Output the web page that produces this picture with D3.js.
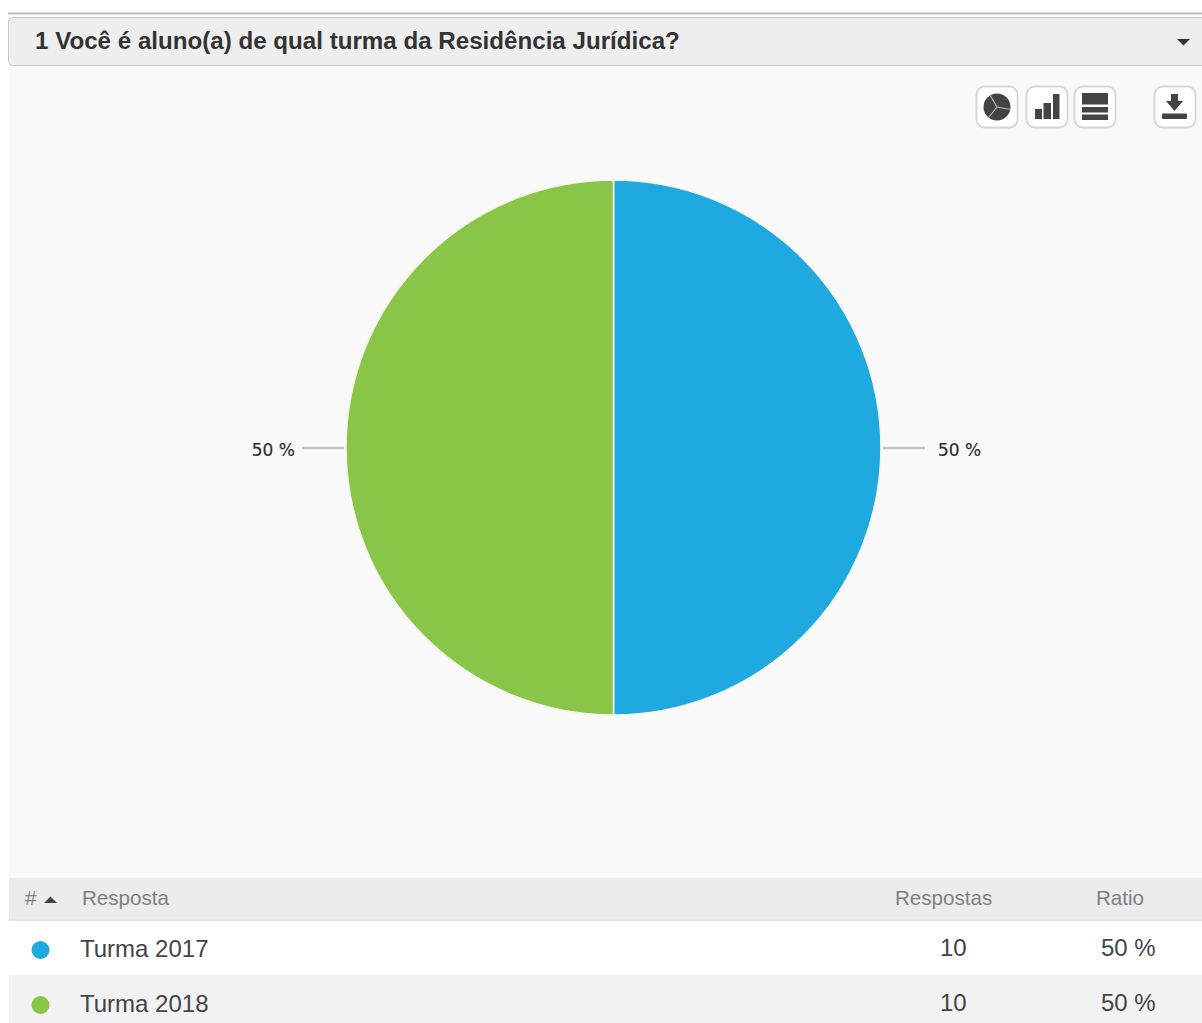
<!DOCTYPE html>
<html lang="pt">
<head>
<meta charset="utf-8">
<title>Turma da Residência Jurídica</title>
<script src="https://d3js.org/d3.v7.min.js"></script>
<style>
html,body{margin:0;padding:0;background:#fff;overflow:hidden}
svg{display:block}
text{font-family:"Liberation Sans",Arial,sans-serif}
</style>
</head>
<body>
<svg id="chart" width="1202" height="1023"></svg>
<script>
const questionTitle = "1 Você é aluno(a) de qual turma da Residência Jurídica?";
const categories = ["Turma 2017", "Turma 2018"];
const responses = [10, 10];
const ratioLabels = ["50 %", "50 %"];
const sliceColors = ["#1fa9e1", "#89c546"];
const columnHeadings = ["Resposta", "Respostas", "Ratio"];

const svg = d3.select("#chart");

// Question header bar
svg.append("rect").attr("x", 8).attr("y", 12.5).attr("width", 1194).attr("height", 2).attr("fill", "#bebebe");
svg.append("rect").attr("x", 9).attr("y", 66).attr("width", 1193).attr("height", 812).attr("fill", "#f9f9f9");
svg.append("rect").attr("x", 8.5).attr("y", 17.5).attr("width", 1200).attr("height", 48).attr("rx", 4)
  .attr("fill", "#eeeeee").attr("stroke", "#cacaca");
svg.append("text").attr("x", 35).attr("y", 49).attr("font-size", 24.15).attr("font-weight", 700)
  .attr("fill", "#333").text(questionTitle);
svg.append("path").attr("d", "M1177 39h13l-6.500 6.500z").attr("fill", "#333");

// Toolbar buttons
const toolbar = svg.append("g");
[[976, "pie"], [1026, "bars"], [1074, "rows"], [1154, "download"]].forEach(([x, kind]) => {
  const g = toolbar.append("g").attr("transform", `translate(${x},86)`);
  g.append("rect").attr("x", 0.5).attr("y", 0.5).attr("width", 41).attr("height", 41).attr("rx", 8)
    .attr("fill", "#fff").attr("stroke", "#d6d6d6").attr("stroke-width", 1.8);
  const ink = "#444";
  if (kind === "pie") {
    g.append("circle").attr("cx", 21).attr("cy", 21).attr("r", 13.5).attr("fill", ink);
    g.append("path").attr("d", "M21 21L14 9M21 21L35 23.500M21 21L13 31").attr("stroke", "#bbb").attr("stroke-width", 1.2).attr("fill", "none");
  } else if (kind === "bars") {
    g.append("rect").attr("x", 9).attr("y", 23).attr("width", 7).attr("height", 10).attr("fill", ink);
    g.append("rect").attr("x", 17.5).attr("y", 17).attr("width", 7.5).attr("height", 16).attr("fill", ink);
    g.append("rect").attr("x", 27).attr("y", 8).attr("width", 6.500).attr("height", 25).attr("fill", ink);
  } else if (kind === "rows") {
    g.append("rect").attr("x", 8).attr("y", 7).attr("width", 26).attr("height", 11.5).attr("fill", ink);
    g.append("rect").attr("x", 8).attr("y", 21).attr("width", 26).attr("height", 5.500).attr("fill", ink);
    g.append("rect").attr("x", 8).attr("y", 28.500).attr("width", 26).attr("height", 5.500).attr("fill", ink);
  } else {
    g.append("path").attr("d", "M17 8h7v7h5l-8.500 10l-8.500-10h5z").attr("fill", ink);
    g.append("rect").attr("x", 8).attr("y", 27.500).attr("width", 25).attr("height", 5.500).attr("rx", 1).attr("fill", ink);
  }
});

// Pie, starting at twelve o'clock and running clockwise
const center = [613.5, 447.5];
const outerRadius = 267.5;
const pie = d3.pie().sort(null).startAngle(0).endAngle(2 * Math.PI);
const arc = d3.arc().innerRadius(0).outerRadius(outerRadius);
const arcs = pie(responses);
const pieGroup = svg.append("g").attr("transform", `translate(${center})`);
pieGroup.selectAll("path").data(arcs).join("path")
  .attr("d", arc)
  .attr("fill", (d, i) => sliceColors[i])
  .attr("stroke", "#f4f6ee").attr("stroke-width", 1.6);

// Leader lines and percentage labels at each slice's mid-angle
arcs.forEach((d, i) => {
  const mid = (d.startAngle + d.endAngle) / 2;
  const dirX = Math.sin(mid) > 0 ? 1 : -1;
  const labelGap = dirX > 0 ? 57 : 51;
  pieGroup.append("line")
    .attr("x1", dirX * (outerRadius + 2)).attr("y1", 0.5)
    .attr("x2", dirX * (outerRadius + 44)).attr("y2", 0.5)
    .attr("stroke", "#c4c4c4").attr("stroke-width", 2.4);
  pieGroup.append("text")
    .attr("x", dirX * (outerRadius + labelGap)).attr("y", 8.5)
    .attr("text-anchor", dirX > 0 ? "start" : "end")
    .style("font-family", "'DejaVu Sans',Verdana,sans-serif")
    .attr("font-size", 17).attr("fill", "#2f2f2f").attr("stroke", "#2f2f2f").attr("stroke-width", 0.2)
    .text(ratioLabels[i]);
});

// Results table
const tableLeft = 9, tableWidth = 1193;
svg.append("rect").attr("x", tableLeft).attr("y", 878).attr("width", tableWidth).attr("height", 42).attr("fill", "#ececec");
svg.append("rect").attr("x", tableLeft).attr("y", 919.5).attr("width", tableWidth).attr("height", 1.5).attr("fill", "#e2e2e2");
const headColor = "#7f8082";
svg.append("text").attr("x", 25).attr("y", 905).attr("font-size", 20.6).attr("fill", headColor).text("#");
svg.append("path").attr("d", "M44 903l6.500-6.500l6.500 6.500z").attr("fill", "#444");
svg.append("text").attr("x", 82).attr("y", 905).attr("font-size", 20.6).attr("fill", headColor).text(columnHeadings[0]);
svg.append("text").attr("x", 895).attr("y", 905).attr("font-size", 20.6).attr("fill", headColor).text(columnHeadings[1]);
svg.append("text").attr("x", 1096).attr("y", 905).attr("font-size", 20.6).attr("fill", headColor).text(columnHeadings[2]);

const rowTop = [921, 975], rowHeight = [54, 48], rowFill = ["#ffffff", "#f2f2f2"];
const rowBaseline = [957, 1012], rowDot = [950, 1005];
categories.forEach((name, i) => {
  svg.append("rect").attr("x", tableLeft).attr("y", rowTop[i]).attr("width", tableWidth).attr("height", rowHeight[i]).attr("fill", rowFill[i]);
  svg.append("circle").attr("cx", 40.5).attr("cy", rowDot[i]).attr("r", 9).attr("fill", sliceColors[i]);
  svg.append("text").attr("x", 80).attr("y", rowBaseline[i]).attr("font-size", 24).attr("fill", "#444").text(name);
  svg.append("text").attr("x", 940).attr("y", rowBaseline[i] - 1).attr("font-size", 24).attr("fill", "#444").text(responses[i]);
  svg.append("text").attr("x", 1101).attr("y", rowBaseline[i] - 1).attr("font-size", 24).attr("fill", "#444").text(ratioLabels[i]);
});
</script>
</body>
</html>
